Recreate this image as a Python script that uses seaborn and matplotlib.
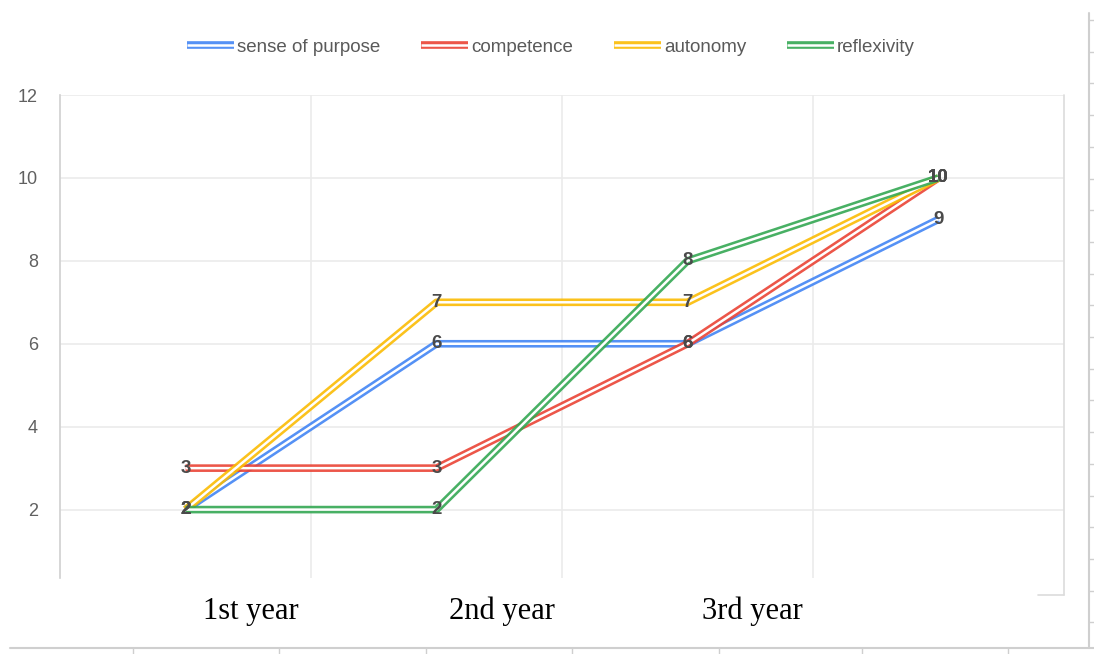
import numpy as np
import pandas as pd
import seaborn as sns
import matplotlib
matplotlib.use("Agg")
import matplotlib.pyplot as plt
import matplotlib.patheffects as pe
from matplotlib.lines import Line2D
from matplotlib.transforms import blended_transform_factory

# --- data -------------------------------------------------------------
periods = ["1st year", "2nd year", "3rd year", ""]
series_names = ["sense of purpose", "competence", "autonomy", "reflexivity"]
sense_of_purpose = [2, 6, 6, 9]
competence = [3, 3, 6, 10]
autonomy = [2, 7, 7, 10]
reflexivity = [2, 2, 8, 10]
y_ticks = [2, 4, 6, 8, 10, 12]

colors = ["#4285F4", "#EA4335", "#FBBC04", "#34A853"]

values = [sense_of_purpose, competence, autonomy, reflexivity]
rows = []
for name, vals in zip(series_names, values):
    for i, v in enumerate(vals):
        rows.append({"pos": i, "score": v, "series": name})
df = pd.DataFrame(rows)

# --- figure -----------------------------------------------------------
sns.set_theme(style="white")
plt.rcParams["font.family"] = ["Liberation Sans", "DejaVu Sans"]

W, H = 1094, 654
fig = plt.figure(figsize=(W / 100, H / 100), dpi=100)
ax = fig.add_axes([60 / W, 1 - 578 / H, (1064 - 60) / W, (578 - 95) / H])

sns.lineplot(data=df, x="pos", y="score", hue="series", hue_order=series_names,
             palette=colors, sort=False, linewidth=5.5, legend=False, ax=ax,
             estimator=None)

# hollow "double" stroke: white core over the coloured line
double = [pe.Normal(), pe.Stroke(linewidth=1.8, foreground="white")]
for ln in ax.lines:
    ln.set_path_effects(double)
    ln.set_solid_capstyle("butt")
    ln.set_solid_joinstyle("round")
    ln.set_alpha(0.9)

# value labels centred on each point
for vals in values:
    for i, v in enumerate(vals):
        ax.text(i, v, str(v), ha="center", va="center", fontsize=13.5,
                fontweight="bold", color="#4a4a4a", zorder=5)

ax.set_xlim(-0.5, 3.5)
ax.set_ylim(0.35, 12)
ax.set_yticks(y_ticks)
ax.set_yticklabels([str(t) for t in y_ticks], fontsize=13, color="#606060")
ax.set_xticks([])
ax.set_xticks([0.5, 1.5, 2.5], minor=True)
ax.tick_params(axis="y", length=0, pad=16)
ax.tick_params(axis="x", which="both", length=0, labelbottom=False)
ax.set_xlabel("")
ax.set_ylabel("")
ax.grid(axis="y", which="major", color="#ebebeb", linewidth=1.2)
ax.grid(axis="x", which="minor", color="#ebebeb", linewidth=1.2)
ax.set_axisbelow(True)
for side in ["top", "right", "bottom"]:
    ax.spines[side].set_visible(False)
ax.spines["left"].set_color("#d0d0d0")
ax.spines["left"].set_linewidth(1.2)

# period labels under the plot
trans = blended_transform_factory(ax.transData, fig.transFigure)
for i, label in enumerate(periods):
    if label:
        ax.text(i + 0.26, 1 - 619 / H, label, transform=trans, ha="center",
                va="baseline", fontsize=22, family=["Liberation Serif", "DejaVu Serif"],
                color="#000000")

# legend
handles = [Line2D([], [], color=c, linewidth=5.5, path_effects=double,
                  solid_capstyle="butt", alpha=0.9) for c in colors]
fig.legend(handles, series_names, loc="center", bbox_to_anchor=(551 / W, 1 - 47 / H),
           ncol=4, frameon=False, fontsize=13.5, handlelength=2.5,
           handletextpad=0.15, columnspacing=2.2, labelcolor="#5a5a5a")

# chart frame and sheet borders
def fline(x0, y0, x1, y1, color="#dcdcdc", lw=1.2):
    fig.add_artist(Line2D([x0 / W, x1 / W], [1 - y0 / H, 1 - y1 / H],
                          color=color, linewidth=lw, transform=fig.transFigure))

fline(1064, 95, 1064, 595)
fline(1038, 595, 1064, 595)
fline(1089, 13, 1089, 648, color="#cfcfcf", lw=1.5)
fline(10, 648, W, 648, color="#cfcfcf", lw=1.5)
for yy in np.arange(20, 640, 31.7):
    fline(1089, yy, W, yy, color="#cfcfcf", lw=1.0)
for xx in [133, 279, 426, 572, 719, 862, 1008]:
    fline(xx, 648, xx, H, color="#cfcfcf", lw=1.0)

fig.savefig("out.png", dpi=100, facecolor="white")
